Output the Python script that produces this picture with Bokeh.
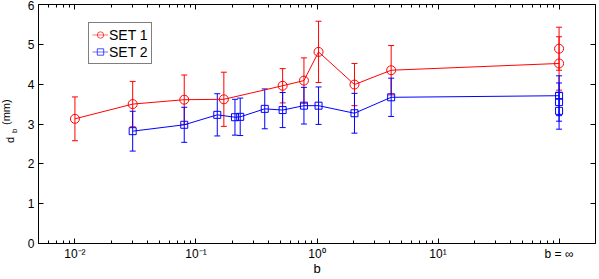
import math
from bokeh.plotting import figure
from bokeh.layouts import row
from bokeh.models import (ColumnDataSource, Whisker, TeeHead, FixedTicker, LogAxis,
                          LinearAxis, CustomJSTickFormatter, Legend, LegendItem, Range1d)
from bokeh.core.properties import value
from bokeh.embed import file_html
from bokeh.resources import INLINE

# ---- data ----
b_inf = 100.0  # position used for "b = inf"
set1_b = [0.01, 0.03, 0.08, 0.17, 0.52, 0.78, 1.03, 2.04, 4.1, b_inf]
set1_d = [3.13, 3.50, 3.61, 3.62, 3.96, 4.09, 4.81, 3.99, 4.35, 4.52]
set1_e = [0.55, 0.57, 0.62, 0.68, 0.43, 0.57, 0.77, 0.53, 0.62, 0.67]
set1_extra_b = [b_inf]
set1_extra_d = [4.89]
set1_extra_e = [0.54]

set2_b = [0.03, 0.08, 0.15, 0.21, 0.232, 0.37, 0.52, 0.78, 1.03, 2.04, 4.1, b_inf]
set2_d = [2.82, 2.98, 3.23, 3.17, 3.18, 3.38, 3.35, 3.46, 3.46, 3.27, 3.67, 3.71]
set2_e = [0.50, 0.44, 0.53, 0.45, 0.47, 0.50, 0.44, 0.46, 0.47, 0.50, 0.48, 0.50]
set2_extra_b = [b_inf, b_inf]
set2_extra_d = [3.55, 3.33]
set2_extra_e = [0.48, 0.46]

x_major = [0.01, 0.1, 1, 10, 100]
x_tick_labels = ["10\u207b\u00b2", "10\u207b\u00b9", "10\u2070", "10\u00b9", "b = \u221e"]
y_major = [0, 1, 2, 3, 4, 5, 6]
series_names = ["SET 1", "SET 2"]

RED = "#ff0000"
BLUE = "#0000ff"
FONT = "Liberation Sans"
H = 279
QW = 22
TOP, BOTTOM = 4, 36

p = figure(width=599 - QW, height=H, x_axis_type="log", output_backend="svg",
           toolbar_location=None, x_range=Range1d(0.005, 200), y_range=Range1d(0, 6),
           min_border_left=38 - QW, min_border_right=4, min_border_top=TOP,
           min_border_bottom=BOTTOM)
p.grid.visible = False
p.outline_line_color = None
p.background_fill_color = "white"
p.border_fill_color = "white"

minor = [m * 10.0 ** e for e in range(-3, 3) for m in range(2, 10)]
xt = FixedTicker(ticks=x_major, minor_ticks=minor)
yt = FixedTicker(ticks=y_major)

def style(ax):
    ax.axis_line_color = "black"
    ax.major_tick_line_color = "black"
    ax.minor_tick_line_color = "black"
    ax.major_tick_in = 5
    ax.major_tick_out = 0
    ax.minor_tick_in = 3
    ax.minor_tick_out = 0
    ax.major_label_text_font = FONT
    ax.major_label_text_font_size = "12px"
    ax.major_label_text_color = "black"

xfmt = CustomJSTickFormatter(args=dict(tvals=x_major, tlabels=x_tick_labels), code="""
    for (let i = 0; i < tvals.length; i++) {
        if (Math.abs(Math.log10(tvals[i]) - Math.log10(tick)) < 1e-6) return tlabels[i];
    }
    return '';
""")

xa = p.xaxis[0]
xa.ticker = xt
xa.formatter = xfmt
xa.axis_label = "b"
xa.axis_label_text_font = FONT
xa.axis_label_text_font_size = "13px"
xa.axis_label_text_font_style = "normal"
xa.axis_label_text_color = "black"
xa.axis_label_standoff = -3
xa.major_label_standoff = 3
style(xa)

ya = p.yaxis[0]
ya.ticker = yt
ya.major_label_standoff = 4
style(ya)
ya.minor_tick_line_color = None

blank = CustomJSTickFormatter(code="return ''")
top = LogAxis(ticker=xt, formatter=blank, major_label_standoff=0)
style(top)
top.major_label_text_font_size = "0px"
p.add_layout(top, "above")
right = LinearAxis(ticker=yt, formatter=blank, major_label_standoff=0)
style(right)
right.major_label_text_font_size = "0px"
right.minor_tick_line_color = None
p.add_layout(right, "right")

def add_set(b, d, e, color, marker, size, line=True):
    src = ColumnDataSource(dict(x=b, y=d, lo=[v - w for v, w in zip(d, e)],
                                hi=[v + w for v, w in zip(d, e)]))
    w = Whisker(source=src, base="x", upper="hi", lower="lo", dimension="height",
                line_color=color, line_width=1,
                upper_head=TeeHead(size=6, line_color=color, line_width=1),
                lower_head=TeeHead(size=6, line_color=color, line_width=1))
    p.add_layout(w)
    if line:
        p.line("x", "y", source=src, line_color=color, line_width=1)
    p.scatter("x", "y", source=src, marker=marker, size=size, fill_color=None,
              line_color=color, line_width=1)

add_set(set1_b, set1_d, set1_e, RED, "circle", 9)
add_set(set1_extra_b, set1_extra_d, set1_extra_e, RED, "circle", 9, line=False)
add_set(set2_b, set2_d, set2_e, BLUE, "square", 7)
add_set(set2_extra_b, set2_extra_d, set2_extra_e, BLUE, "square", 7, line=False)

# legend-only renderers (NaN data, never drawn in the plot)
nan = float("nan")
l1 = p.line(x=[nan], y=[nan], line_color=RED, line_alpha=0.55, line_width=1)
m1 = p.scatter(x=[nan], y=[nan], marker="circle", size=7, fill_color=None,
               line_color=RED, line_alpha=0.7)
l2 = p.line(x=[nan], y=[nan], line_color=BLUE, line_alpha=0.55, line_width=1)
m2 = p.scatter(x=[nan], y=[nan], marker="square", size=5, fill_color=None,
               line_color=BLUE, line_alpha=0.7)
legend = Legend(items=[LegendItem(label=series_names[0], renderers=[l1, m1]),
                       LegendItem(label=series_names[1], renderers=[l2, m2])],
                location=(50, 179))
legend.label_text_font = FONT
legend.label_text_font_size = "14px"
legend.label_text_color = "black"
legend.glyph_width = 16
legend.glyph_height = 17
legend.label_height = 17
legend.label_standoff = 1
legend.padding = 3
legend.spacing = 0
legend.margin = 0
legend.border_line_color = "black"
legend.border_line_width = 1
legend.background_fill_alpha = 1
p.add_layout(legend)

# y axis label "d_b (mm)" in a narrow side panel sharing the y range
q = figure(width=QW, height=H, output_backend="svg", toolbar_location=None,
           x_range=Range1d(0, QW), y_range=p.y_range,
           min_border=0, min_border_left=0, min_border_right=0,
           min_border_top=TOP, min_border_bottom=BOTTOM)
q.axis.visible = False
q.grid.visible = False
q.outline_line_color = None
q.border_fill_color = "white"
q.background_fill_color = "white"
common = dict(angle=math.pi / 2, text_font=value(FONT), text_color="black",
              text_align="left", text_baseline="alphabetic")
q.text(x=[9], y=[3], y_offset=19, text=["d"], text_font_size="11px", **common)
q.text(x=[14], y=[3], y_offset=9, text=["b"], text_font_size="8px", **common)
q.text(x=[5], y=[3], y_offset=1, text=["(mm)"], text_font_size="11px", **common)

layout = row(q, p, spacing=0)
open("out.html", "w").write(file_html(layout, INLINE))
